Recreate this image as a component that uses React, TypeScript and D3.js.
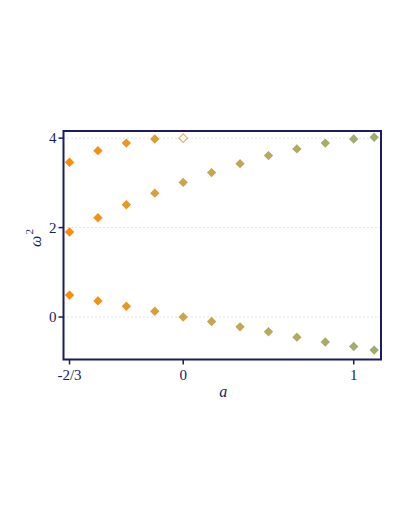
import React from 'react';
import * as d3 from 'd3';

// a values (step 1/6) and the three ω² branches
const aValues = [-4 / 6, -3 / 6, -2 / 6, -1 / 6, 0, 1 / 6, 2 / 6, 3 / 6, 4 / 6, 5 / 6, 1, 1.12];
const upperBranch = [3.46, 3.72, 3.89, 3.98];
const middleBranch = [1.9, 2.22, 2.51, 2.77, 3.01, 3.23, 3.43, 3.61, 3.76, 3.89, 3.98, 4.02];
const lowerBranch = [0.49, 0.36, 0.24, 0.13, 0.0, -0.1, -0.22, -0.33, -0.45, -0.56, -0.66, -0.74];
const openPoint = { a: 0, w: 4 };

const xTicks = [-2 / 3, 0, 1];
const xTickLabels = ['-2/3', '0', '1'];
const yTicks = [0, 2, 4];

const W = 409;
const H = 529;
const margin = { top: 131, right: 28, bottom: 169.5, left: 63.5 };
const navy = '#1b1b5e';

const App = () => {
  const x = d3.scaleLinear().domain([-0.702, 1.16]).range([margin.left, W - margin.right]);
  const y = d3.scaleLinear().domain([-0.95, 4.16]).range([H - margin.bottom, margin.top]);
  const color = d3.scaleLinear<string>()
    .domain([-2 / 3, 0, 1.12])
    .range(['#ff8a00', '#cfa448', '#9cae6e'])
    .interpolate(d3.interpolateRgb);
  const diamond = d3.symbol(d3.symbolDiamond2, 56)();

  const points: { a: number; w: number }[] = [];
  upperBranch.forEach((w, i) => points.push({ a: aValues[i], w }));
  middleBranch.forEach((w, i) => points.push({ a: aValues[i], w }));
  lowerBranch.forEach((w, i) => points.push({ a: aValues[i], w }));

  const x0 = margin.left;
  const x1 = W - margin.right;
  const y0 = H - margin.bottom;
  const y1 = margin.top;

  return (
    <svg width={W} height={H} style={{ position: 'absolute', left: 0, top: 0, background: '#fff' }}
      fontFamily="'Liberation Serif', 'DejaVu Serif', serif">
      {yTicks.map((t) => (
        <line key={'g' + t} x1={x0} x2={x1} y1={y(t)} y2={y(t)}
          stroke="#c4c4e4" strokeWidth={1} strokeDasharray="1,3" />
      ))}
      {points.map((p, i) => (
        <path key={i} d={diamond!} transform={`translate(${x(p.a)},${y(p.w)})`} fill={color(p.a)} />
      ))}
      <path d={d3.symbol(d3.symbolDiamond2, 46)()!} transform={`translate(${x(openPoint.a)},${y(openPoint.w)})`}
        fill="none" stroke="#dcb470" strokeWidth={1.2} />
      <rect x={x0} y={y1} width={x1 - x0} height={y0 - y1} fill="none" stroke={navy} strokeWidth={2} />
      {yTicks.map((t) => (
        <g key={'y' + t}>
          <line x1={x0 - 5} x2={x0} y1={y(t)} y2={y(t)} stroke={navy} strokeWidth={1.5} />
          <text x={x0 - 7} y={y(t)} dy="0.35em" textAnchor="end" fontSize={15} fill={navy}>{t}</text>
        </g>
      ))}
      {xTicks.map((t, i) => (
        <g key={'x' + i}>
          <line x1={x(t)} x2={x(t)} y1={y0} y2={y0 + 5} stroke={navy} strokeWidth={1.5} />
          <text x={x(t)} y={y0 + 20} textAnchor="middle" fontSize={15} fill={navy}>{xTickLabels[i]}</text>
        </g>
      ))}
      <text x={(x0 + x1) / 2 + 1} y={397} textAnchor="middle" fontSize={16} fontStyle="italic" fill={navy}>a</text>
      <text transform={`translate(41,238) rotate(-90)`} textAnchor="middle" fill={navy} fontSize={16}>
        <tspan fontStyle="italic">ω</tspan>
        <tspan fontSize={11} dy={-8} dx={1}>2</tspan>
      </text>
    </svg>
  );
};

export default App;
